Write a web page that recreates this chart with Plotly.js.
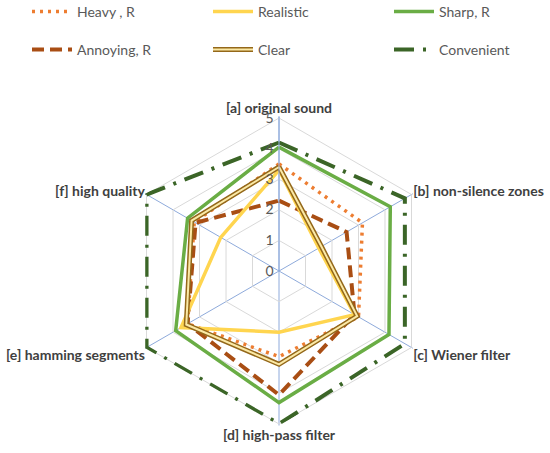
<!DOCTYPE html>
<html>
<head>
<meta charset="utf-8">
<script src="https://cdn.plot.ly/plotly-3.0.1.min.js"></script>
<style>
  body { margin: 0; padding: 0; background: #fff; }
  #radar { width: 550px; height: 453px; }
</style>
</head>
<body>
<div id="radar"></div>
<script>
// axis labels, clockwise from the top
var axes = ["[a] original sound", "[b] non-silence zones", "[c] Wiener filter",
            "[d] high-pass filter", "[e] hamming segments", "[f] high quality"];

// ratings (0..5)
var heavy      = [3.5, 3.15, 3.0, 2.8, 3.45, 3.2];
var realistic  = [3.3, 1.5, 2.85, 2.0, 3.7, 2.2];
var sharp      = [4.05, 4.2, 4.15, 4.3, 3.9, 3.45];
var annoying   = [2.3, 2.55, 2.85, 4.05, 3.45, 3.15];
var clear      = [3.4, 1.6, 2.95, 3.05, 3.5, 3.3];
var convenient = [4.2, 4.75, 4.75, 5, 5, 5];

var radialTicks = [0, 1, 2, 3, 4, 5];

function closed(arr) { return arr.concat([arr[0]]); }
var theta = closed(axes);

function series(name, vals, line, legend) {
  return {
    type: 'scatterpolar', mode: 'lines', name: name,
    r: closed(vals), theta: theta, line: line, cliponaxis: false,
    legend: legend, showlegend: true, hoverinfo: 'skip'
  };
}

var data = [
  series('Convenient', convenient, {color: '#3b6527', width: 4, dash: '20px,9px,3px,9px'}, 'legend6'),
  series('Sharp, R', sharp, {color: '#6aad45', width: 3.5}, 'legend3'),
  series('Heavy , R', heavy, {color: '#ed7d31', width: 3.5, dash: '3px,5px'}, 'legend'),
  series('Annoying, R', annoying, {color: '#a94e14', width: 4, dash: '12px,6px'}, 'legend4'),
  series('Realistic', realistic, {color: '#ffd54f', width: 3.5}, 'legend2'),
  // "Clear" is a double line: dark gold edge with a pale core on top
  series('Clear', clear, {color: '#94681a', width: 5}, 'legend5'),
  series(' ', clear, {color: '#fbe9a6', width: 2}, 'legend7')
];

// one legend per entry so the 3x2 grid sits where the reference puts it
function legendAt(px, py) {
  return {
    x: px / 550, xanchor: 'left', y: 1 - py / 453, yanchor: 'middle',
    itemwidth: 40,
    font: {family: 'Lato, sans-serif', size: 14, color: '#595959'},
    bgcolor: 'rgba(0,0,0,0)'
  };
}

var layout = {
  width: 550, height: 453,
  margin: {l: 0, r: 0, t: 0, b: 0, autoexpand: false},
  paper_bgcolor: '#fff',
  font: {family: 'Lato, sans-serif', color: '#404040'},
  showlegend: true,
  legend: legendAt(27, 12),
  legend2: legendAt(208, 12),
  legend3: legendAt(389, 12),
  legend4: legendAt(27, 50),
  legend5: legendAt(208, 50),
  legend6: legendAt(389, 50),
  legend7: legendAt(208, 50),
  polar: {
    // range a touch past 5 so the outer series is not half clipped
    domain: {x: [0.2264, 0.7882], y: [0.0607, 0.7428]},
    gridshape: 'linear',
    bgcolor: '#fff',
    radialaxis: {
      range: [0, 5.05], tickvals: radialTicks, angle: 90,
      side: 'counterclockwise', tickangle: 90,
      showline: true, linecolor: '#8eaadb', linewidth: 1,
      gridcolor: '#d9d9d9', gridwidth: 1,
      ticks: '', tickfont: {family: 'Lato, sans-serif', size: 14, color: '#595959'}
    },
    angularaxis: {
      direction: 'clockwise', rotation: 90,
      showline: false,
      gridcolor: '#8eaadb', gridwidth: 1, ticks: '',
      tickfont: {family: 'Lato, sans-serif', size: 14, color: '#404040', weight: 'bold'}
    }
  }
};

Plotly.newPlot('radar', data, layout, {displayModeBar: false, staticPlot: true});
</script>
</body>
</html>
